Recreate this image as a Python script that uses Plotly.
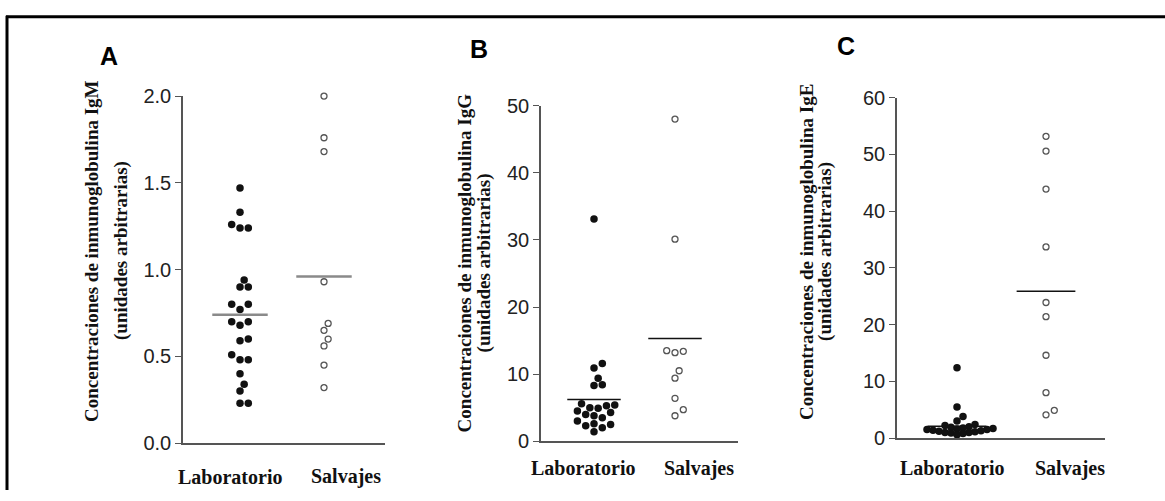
import plotly.graph_objects as go

W, H = 1165, 501

# ---------------- data ----------------
categories = ["Laboratorio", "Salvajes"]
panel_letters = ["A", "B", "C"]
y_titles = [
    "Concentraciones de inmunoglobulina IgM",
    "Concentraciones de inmunoglobulina IgG",
    "Concentraciones de inmunoglobulina IgE",
]
y_subtitle = "(unidades arbitrarias)"

igm_lab = [1.47, 1.33, 1.26, 1.24, 1.24, 0.94, 0.90, 0.90, 0.80, 0.80, 0.77, 0.70,
           0.70, 0.68, 0.60, 0.59, 0.51, 0.48, 0.48, 0.40, 0.34, 0.30, 0.23, 0.23]
igm_salv = [2.00, 1.76, 1.68, 0.93, 0.69, 0.65, 0.60, 0.56, 0.45, 0.32]
igm_means = [0.74, 0.96]

igg_lab = [33.1, 11.6, 10.9, 9.4, 8.4, 8.3, 5.6, 5.4, 5.3, 5.0, 4.9, 4.5, 4.3, 4.0,
           3.8, 3.5, 3.0, 2.6, 2.5, 2.3, 2.0, 1.4]
igg_salv = [48.0, 30.1, 13.5, 13.4, 13.2, 10.5, 9.4, 6.4, 4.7, 3.8]
igg_means = [6.2, 15.3]

ige_lab = [12.4, 5.5, 3.8, 3.0, 2.4, 2.2, 2.0, 1.9, 1.8, 1.7, 1.6, 1.5, 1.5, 1.4,
           1.3, 1.2, 1.1, 1.0, 1.0, 0.9, 0.8, 0.6]
ige_salv = [53.2, 50.6, 43.9, 33.7, 23.9, 21.4, 14.6, 8.0, 4.9, 4.1]
ige_means = [2.1, 25.9]

y_max = [2.0, 50, 60]
y_dtick = [0.5, 10, 10]
y_format = [".1f", "d", "d"]

# ---------------- layout geometry (pixels) ----------------
# axis_left, axis_right, lab_center, salv_center, y0_px, ytop_px
geom = [
    (183, 385, 240, 324, 452.0, 89.0),
    (541, 738, 594, 675, 450.0, 99.0),
    (897, 1105, 957, 1046, 446.7, 90.7),
]
title_x = [(92, 121), (464, 484), (807, 825)]
title_yc = [251, 264, 252]
label_px = [(230, 346), (583, 699), (952, 1070)]
label_py = [487, 478, 478]
letter_pos = [(109, 47), (479, 40), (846, 37)]
mean_color = ["#8a8a8a", "#111111", "#111111"]
mean_width = [2.5, 1.5, 1.5]
swarm_gap = [(8.3, 8.3), (8.3, 8.3), (6.0, 8.3)]

panels = [
    (igm_lab, igm_salv, igm_means),
    (igg_lab, igg_salv, igg_means),
    (ige_lab, ige_salv, ige_means),
]


def swarm(values, ppu_y, ppu_x, diam):
    """simple beeswarm: horizontal offsets (in x units) avoiding overlap"""
    step = diam / 2.0
    cands = [0.0]
    for k in range(1, 30):
        cands += [k * step, -k * step]
    placed = []
    offs = [0.0] * len(values)
    for i in sorted(range(len(values)), key=lambda j: values[j]):
        y = values[i] * ppu_y
        chosen = 0.0
        for c in cands:
            if all((c - px) ** 2 + (y - py) ** 2 >= (diam * 0.98) ** 2 for px, py in placed):
                chosen = c
                break
        placed.append((chosen, y))
        offs[i] = chosen / ppu_x
    return offs


fig = go.Figure()
layout_axes = {}
annotations = []

for p, (lab, salv, means) in enumerate(panels):
    axl, axr, labc, salc, y0, yt = geom[p]
    ppu_x = salc - labc
    xr = [(axl - labc) / ppu_x, (axr - labc) / ppu_x]
    ppu_y = (y0 - yt) / y_max[p]
    sfx = "" if p == 0 else str(p + 1)
    xa, ya = "x" + sfx, "y" + sfx

    lab_off = swarm(lab, ppu_y, ppu_x, swarm_gap[p][0])
    salv_off = swarm(salv, ppu_y, ppu_x, swarm_gap[p][1])

    fig.add_trace(go.Scatter(
        x=[0 + o for o in lab_off], y=lab, mode="markers", xaxis=xa, yaxis=ya,
        marker=dict(size=7.5, color="#111111", line=dict(width=0)),
        cliponaxis=False, showlegend=False, hoverinfo="y"))
    fig.add_trace(go.Scatter(
        x=[1 + o for o in salv_off], y=salv, mode="markers", xaxis=xa, yaxis=ya,
        marker=dict(size=6, color="white", line=dict(width=1.3, color="#555555")),
        cliponaxis=False, showlegend=False, hoverinfo="y"))
    for ci, m in enumerate(means):
        fig.add_trace(go.Scatter(
            x=[ci - 0.33, ci + 0.33], y=[m, m], mode="lines", xaxis=xa, yaxis=ya,
            line=dict(color=mean_color[p], width=mean_width[p]),
            cliponaxis=False, showlegend=False, hoverinfo="skip"))

    layout_axes["xaxis" + sfx] = dict(
        domain=[axl / W, axr / W], range=xr, anchor=ya,
        showline=True, linecolor="#555555", linewidth=1.6,
        showticklabels=False, ticks="", showgrid=False, zeroline=False,
    )
    layout_axes["yaxis" + sfx] = dict(
        domain=[1 - y0 / H, 1 - yt / H], range=[0, y_max[p]], anchor=xa,
        showline=True, linecolor="#555555", linewidth=1.6,
        ticks="outside", ticklen=6, tickwidth=1.3, tickcolor="#555555",
        dtick=y_dtick[p], tick0=0, tickformat=y_format[p],
        tickfont=dict(family="Liberation Sans", size=20, color="#222222"),
        showgrid=False, zeroline=False,
    )

    # category labels
    for ci, cat in enumerate(categories):
        annotations.append(dict(
            x=label_px[p][ci] / W, y=1 - label_py[p] / H, xref="paper", yref="paper",
            text=cat, showarrow=False, xanchor="center", yanchor="middle",
            font=dict(family="Liberation Serif", size=20, color="#111111", weight="bold")))
    # y titles
    for li, txt in enumerate([y_titles[p], y_subtitle]):
        annotations.append(dict(
            x=title_x[p][li] / W, y=1 - title_yc[p] / H, xref="paper", yref="paper",
            text=txt, showarrow=False, textangle=-90, xanchor="center", yanchor="middle",
            font=dict(family="Liberation Serif", size=19, color="#111111", weight="bold")))
    # panel letter
    annotations.append(dict(
        x=letter_pos[p][0] / W, y=1 - letter_pos[p][1] / H, xref="paper", yref="paper",
        text=panel_letters[p], showarrow=False, xanchor="center", yanchor="middle",
        font=dict(family="Liberation Sans", size=25, color="#000000", weight="bold")))

shapes = [
    dict(type="line", xref="paper", yref="paper", x0=6 / W, x1=1.0, y0=1 - 6 / H, y1=1 - 6 / H,
         line=dict(color="black", width=3)),
    dict(type="line", xref="paper", yref="paper", x0=7 / W, x1=7 / W, y0=0, y1=1 - 5 / H,
         line=dict(color="black", width=3)),
]

fig.update_layout(
    width=W, height=H, margin=dict(l=0, r=0, t=0, b=0),
    paper_bgcolor="white", plot_bgcolor="white",
    annotations=annotations, shapes=shapes, showlegend=False,
    **layout_axes,
)

fig.write_html("out.html")
